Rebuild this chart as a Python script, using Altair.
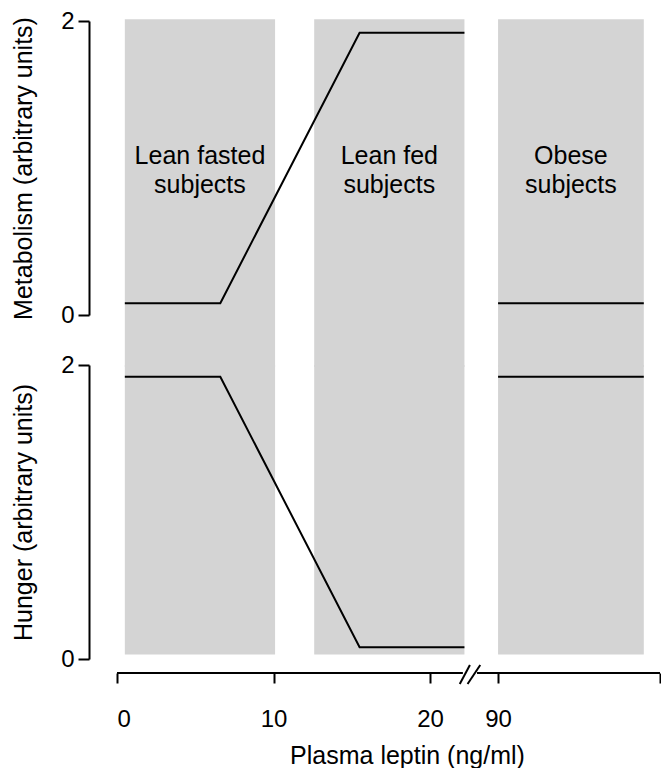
import altair as alt
import pandas as pd

# ---- data ----
group_labels = ["Lean fasted\nsubjects", "Lean fed\nsubjects", "Obese\nsubjects"]
group_start = [0.5, 12.6, 90.0]
group_end = [10.1, 22.2, 99.0]
group_label_x = [5.3, 17.4, 94.5]
group_label_y = [1.08, 1.08, 1.08]
band_top = 2.012      # top edge of grey bands (metabolism units)
band_bottom = 0.03    # bottom edge of grey bands (hunger units)

lean_x = [0.5, 6.6, 15.5, 22.2]
metabolism_lean = [0.08, 0.08, 1.92, 1.92]
hunger_lean = [1.92, 1.92, 0.08, 0.08]
obese_x = [90.0, 99.0]
metabolism_obese = [0.08, 0.08]
hunger_obese = [1.92, 1.92]

x_ticks = [0, 10, 20, 90, 100]
x_tick_labels = ["0", "10", "20", "90", ""]
y_ticks = [0, 1, 2]

# broken x axis: line segments and the "//" break marks
axis_seg_start = [0, 88.7]
axis_seg_end = [22.1, 100]
break_x1 = [21.9, 22.4]
break_x2 = [22.55, 88.9]

# ---- layout ----
W = 543
H = 294
GAP = 50
FONT = "Liberation Sans"
GREY = "#d4d4d4"

xscale = alt.Scale(domain=[0, 22.9, 88.6, 100], range=[0, 358.4, 358.4, W], nice=False, zero=False)
yscale = alt.Scale(domain=[0, 2], nice=False, zero=False)

bands = pd.DataFrame({"label": group_labels, "start": group_start, "end": group_end,
                      "lx": group_label_x, "ly": group_label_y,
                      "top": [band_top] * 3, "bottom": [band_bottom] * 3})


def lines_df(lean_vals, obese_vals):
    rows = []
    for x, y in zip(lean_x, lean_vals):
        rows.append({"x": x, "y": y, "seg": "lean"})
    for x, y in zip(obese_x, obese_vals):
        rows.append({"x": x, "y": y, "seg": "obese"})
    return pd.DataFrame(rows)


def yaxis(title):
    return alt.Axis(values=y_ticks, format="d", title=title, offset=28, tickSize=11, tickWidth=2,
                    domainWidth=2, domainColor="black", tickColor="black",
                    labelFontSize=24, labelColor="black", labelPadding=4,
                    titleFontSize=25, titleFontWeight="normal", titleColor="black",
                    titlePadding=24, grid=False, labelFont=FONT, titleFont=FONT)


label_expr = "{" + ",".join(f"'{v}':'{l}'" for v, l in zip(x_ticks, x_tick_labels)) + "}[datum.value]"

# ---- top panel: metabolism ----
top_rect = alt.Chart(bands).mark_rect(color=GREY).encode(
    x=alt.X("start:Q", scale=xscale, axis=None),
    x2="end:Q",
    y=alt.Y("top:Q", scale=yscale, axis=yaxis("Metabolism (arbitrary units)")),
    y2=alt.value(H + GAP + 2),
)
top_text = alt.Chart(bands).mark_text(fontSize=25, font=FONT, lineBreak="\n", lineHeight=29,
                                      align="center", baseline="middle", color="black").encode(
    x=alt.X("lx:Q", scale=xscale), y=alt.Y("ly:Q", scale=yscale), text="label:N")
top_line = alt.Chart(lines_df(metabolism_lean, metabolism_obese)).mark_line(
    color="black", strokeWidth=2).encode(
    x=alt.X("x:Q", scale=xscale), y=alt.Y("y:Q", scale=yscale), detail="seg:N")
top = alt.layer(top_rect, top_text, top_line).properties(width=W, height=H)

# ---- bottom panel: hunger ----
bot_rect = alt.Chart(bands).mark_rect(color=GREY).encode(
    x=alt.X("start:Q", scale=xscale,
            axis=alt.Axis(values=x_ticks, labelExpr=label_expr, domain=False, offset=14,
                          tickSize=10, tickWidth=2, tickColor="black", labelFontSize=24,
                          labelColor="black", labelPadding=24, labelFont=FONT,
                          title="Plasma leptin (ng/ml)", titleFontSize=25,
                          titleFontWeight="normal", titleColor="black", titleFont=FONT,
                          titleX=290, titleAnchor="middle", titlePadding=12, grid=False)),
    x2="end:Q",
    y=alt.Y("bottom:Q", scale=yscale, axis=yaxis("Hunger (arbitrary units)")),
    y2=alt.value(0),
)
bot_line = alt.Chart(lines_df(hunger_lean, hunger_obese)).mark_line(
    color="black", strokeWidth=2).encode(
    x=alt.X("x:Q", scale=xscale), y=alt.Y("y:Q", scale=yscale), detail="seg:N")
axis_segs = alt.Chart(pd.DataFrame({"s": axis_seg_start, "e": axis_seg_end})).mark_rule(
    color="black", strokeWidth=2).encode(
    x=alt.X("s:Q", scale=xscale), x2="e:Q", y=alt.value(H + 14))
breaks = alt.Chart(pd.DataFrame({"a": break_x1, "b": break_x2})).mark_rule(
    color="black", strokeWidth=2).encode(
    x=alt.X("a:Q", scale=xscale), x2="b:Q", y=alt.value(H + 25), y2=alt.value(H + 6))
bottom = alt.layer(bot_rect, bot_line, axis_segs, breaks).properties(width=W, height=H)

chart = alt.vconcat(top, bottom, spacing=GAP, bounds="flush").properties(
    padding={"left": 3, "top": 1, "right": 0, "bottom": 0}
).configure_view(stroke=None)

chart.save("out.html", embed_options={"renderer": "svg", "actions": False})
